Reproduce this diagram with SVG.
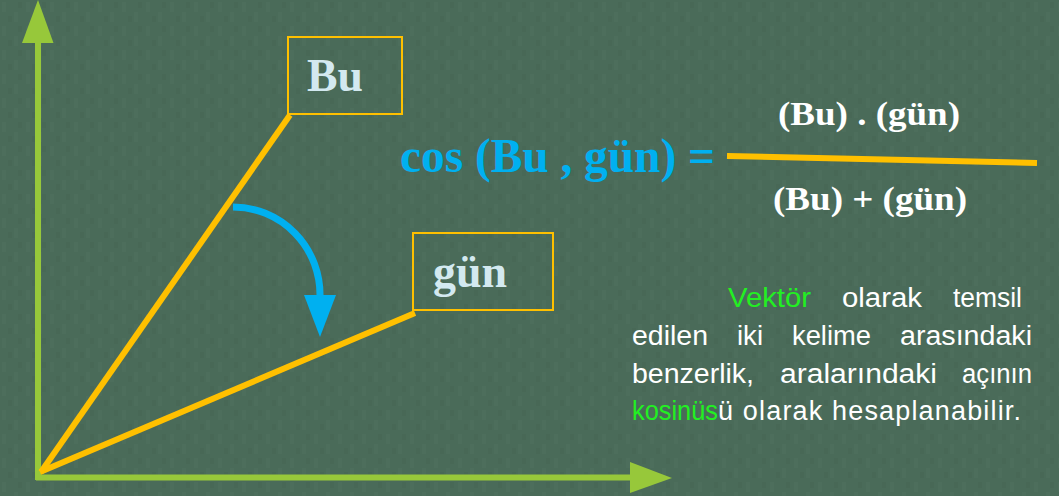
<svg xmlns="http://www.w3.org/2000/svg" width="1059" height="496" viewBox="0 0 1059 496">
  <defs>
    <pattern id="weave" x="0" y="0" width="24" height="24" patternUnits="userSpaceOnUse">
      <rect width="24" height="24" fill="#4a6b59"/>
      <rect x="2" y="2" width="4" height="10" fill="#4f705e" opacity="0.6"/>
      <rect x="14" y="12" width="4" height="10" fill="#4f705e" opacity="0.6"/>
      <rect x="8" y="16" width="4" height="6" fill="#466654" opacity="0.6"/>
      <rect x="18" y="2" width="4" height="6" fill="#466654" opacity="0.6"/>
    </pattern>
  </defs>
  <style>
    .axis { stroke: #97c83a; stroke-width: 6; fill: none; }
    .axishead { fill: #97c83a; }
    .vec { stroke: #ffc000; stroke-width: 6; fill: none; stroke-linecap: butt; }
    .box { fill: none; stroke: #ffc000; stroke-width: 2; }
    .label { font-family: "Liberation Serif", "DejaVu Serif", serif; font-weight: bold; font-size: 46px; fill: #d3e9f0; }
    .formula { font-family: "Liberation Serif", "DejaVu Serif", serif; font-weight: bold; fill: #ffffff; font-size: 34px; }
    .cos { font-family: "Liberation Serif", "DejaVu Serif", serif; font-weight: bold; fill: #00b0f0; font-size: 48px; }
    .desc { font-family: "Liberation Sans", "Open Sans", sans-serif; font-size: 27px; fill: #ffffff; }
    .hl { fill: #22f022; }
  </style>
  <rect width="1059" height="496" fill="url(#weave)"/>

  <g id="axes">
    <line class="axis" x1="38" y1="40" x2="38" y2="480"/>
    <path class="axishead" d="M38,0 L53.5,43 L22,43 Z"/>
    <line class="axis" x1="36" y1="477.5" x2="632" y2="477.5"/>
    <path class="axishead" d="M672,478 L630,462 L630,493 Z"/>
  </g>

  <g id="connectors">
    <line class="vec" x1="41" y1="472" x2="290" y2="115"/>
    <line class="vec" x1="40" y1="472" x2="415" y2="313"/>
    <path d="M233,207 A87,88 0 0 1 320,297" fill="none" stroke="#00b0f0" stroke-width="7"/>
    <path d="M304,295 L336,295 L320,337 Z" fill="#00b0f0"/>
  </g>

  <g id="node-bu">
    <rect class="box" x="288" y="37" width="114" height="77"/>
    <text class="label" x="307" y="91" textLength="56" lengthAdjust="spacingAndGlyphs">Bu</text>
  </g>

  <g id="node-gun">
    <rect class="box" x="413" y="233" width="140" height="77"/>
    <text class="label" x="433" y="287" textLength="74" lengthAdjust="spacingAndGlyphs">gün</text>
  </g>

  <g id="formula">
    <text class="cos" x="400" y="172" textLength="315" lengthAdjust="spacingAndGlyphs">cos (Bu , gün) =</text>
    <line x1="727" y1="156" x2="1037" y2="163" stroke="#ffc000" stroke-width="6"/>
    <text class="formula" x="778" y="125" textLength="182" lengthAdjust="spacingAndGlyphs">(Bu) . (gün)</text>
    <text class="formula" x="773" y="210" textLength="194" lengthAdjust="spacingAndGlyphs">(Bu) + (gün)</text>
  </g>

  <g id="description" class="desc">
    <text class="hl" x="728" y="307" textLength="83" lengthAdjust="spacingAndGlyphs">Vektör</text>
    <text x="842" y="307" textLength="80" lengthAdjust="spacingAndGlyphs">olarak</text>
    <text x="953" y="307" textLength="69" lengthAdjust="spacingAndGlyphs">temsil</text>

    <text x="632" y="345" textLength="76" lengthAdjust="spacingAndGlyphs">edilen</text>
    <text x="737" y="345" textLength="26" lengthAdjust="spacingAndGlyphs">iki</text>
    <text x="792" y="345" textLength="79" lengthAdjust="spacingAndGlyphs">kelime</text>
    <text x="900" y="345" textLength="132" lengthAdjust="spacingAndGlyphs">arasındaki</text>

    <text x="632" y="383" textLength="122" lengthAdjust="spacingAndGlyphs">benzerlik,</text>
    <text x="780" y="383" textLength="157" lengthAdjust="spacingAndGlyphs">aralarındaki</text>
    <text x="962" y="383" textLength="70" lengthAdjust="spacingAndGlyphs">açının</text>

    <text x="632" y="420"><tspan class="hl" textLength="86" lengthAdjust="spacingAndGlyphs">kosinüs</tspan><tspan x="718" textLength="303" lengthAdjust="spacing">ü olarak hesaplanabilir.</tspan></text>
  </g>
</svg>
